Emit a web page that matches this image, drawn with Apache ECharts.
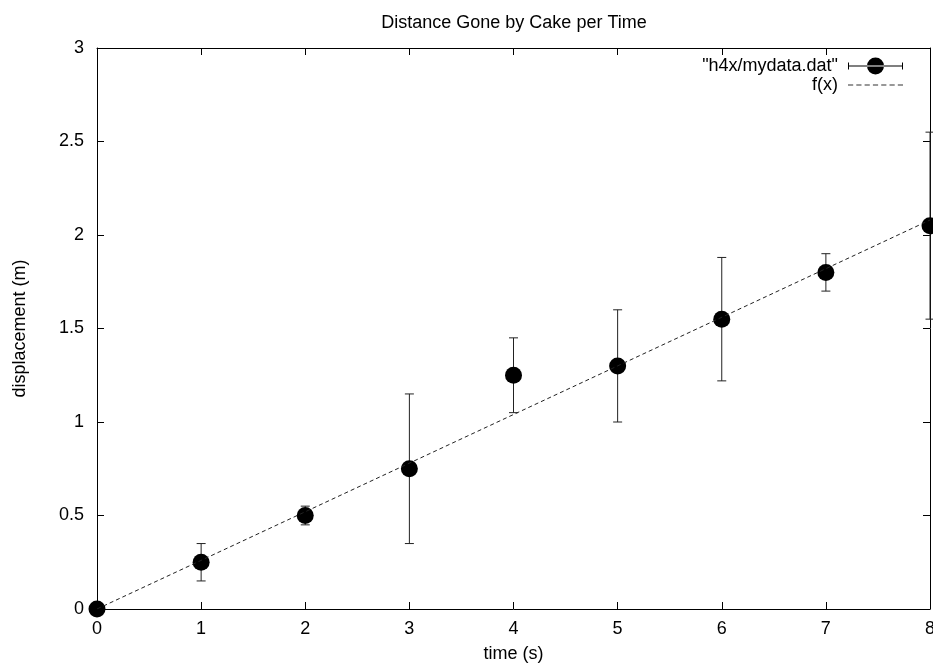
<!DOCTYPE html>
<html>
<head>
<meta charset="utf-8">
<title>Distance Gone by Cake per Time</title>
<script src="https://cdn.jsdelivr.net/npm/echarts@6/dist/echarts.min.js"></script>
<style>
  html, body { margin: 0; padding: 0; background: #fff; }
  #chart { width: 933px; height: 663px; }
</style>
</head>
<body>
<div id="chart"></div>
<script>
// datos
const tiempos = [0, 1, 2, 3, 4, 5, 6, 7, 8];
const desplazamientos = [0, 0.25, 0.5, 0.75, 1.25, 1.3, 1.55, 1.8, 2.05];
const errorBajo = [0, 0.15, 0.45, 0.35, 1.05, 1.0, 1.22, 1.7, 1.55];
const errorAlto = [0, 0.35, 0.55, 1.15, 1.45, 1.6, 1.88, 1.9, 2.55];

// recta f(x), extremos
const ajusteX = [0, 8];
const ajusteY = [0, 2.08];

const fuente = 'Liberation Sans, Arial, sans-serif';
const tamano = 18;

const puntos = tiempos.map((t, i) => [t, desplazamientos[i]]);
const barras = tiempos.map((t, i) => [t, errorBajo[i], errorAlto[i]]);
const recta = ajusteX.map((x, i) => [x, ajusteY[i]]);

// iconos de la leyenda
const iconoDatos = 'path://M0,5h1v7h-1z M54,5h1v7h-1z M0,8h55v1h-55z ' +
  'M19,8.5a8.5,8.5 0 1,0 17,0a8.5,8.5 0 1,0 -17,0z';
const iconoRecta = 'path://M0,0h5v1h-5z M8,0h5v1h-5z M16,0h5v1h-5z M24,0h5v1h-5z ' +
  'M32,0h5v1h-5z M40,0h5v1h-5z M48,0h5v1h-5z';

const chart = echarts.init(document.getElementById('chart'));

const ejeComun = {
  type: 'value',
  axisLine: { show: true, onZero: false, lineStyle: { color: '#000', width: 1 } },
  axisTick: { show: true, inside: true, length: 7, lineStyle: { color: '#000' } },
  splitLine: { show: false },
  axisLabel: { color: '#000', fontSize: tamano, fontFamily: fuente }
};

const option = {
  animation: false,
  backgroundColor: '#fff',
  title: {
    text: 'Distance Gone by Cake per Time',
    left: 509,
    top: 9,
    textAlign: 'center',
    textStyle: { fontSize: tamano, fontWeight: 'normal', color: '#000', fontFamily: fuente }
  },
  grid: { left: 97, right: 3, top: 48, bottom: 54, outerBoundsMode: 'none' },
  legend: {
    orient: 'vertical',
    right: 25,
    top: 52,
    align: 'right',
    itemWidth: 55,
    itemHeight: 17,
    itemGap: 1,
    formatter: '{name} ',
    textStyle: { fontSize: tamano, lineHeight: 17, color: '#000', fontFamily: fuente },
    data: [
      { name: '"h4x/mydata.dat"', icon: iconoDatos },
      { name: 'f(x)', icon: iconoRecta }
    ]
  },
  xAxis: [
    Object.assign({}, ejeComun, {
      min: 0, max: 8, interval: 1, position: 'bottom',
      axisLabel: Object.assign({}, ejeComun.axisLabel, { margin: 11 }),
      name: 'time (s)',
      nameLocation: 'middle',
      nameGap: 36,
      nameTextStyle: { fontSize: tamano, color: '#000', fontFamily: fuente }
    }),
    Object.assign({}, ejeComun, {
      min: 0, max: 8, interval: 1, position: 'top',
      axisLabel: { show: false }
    })
  ],
  yAxis: [
    Object.assign({}, ejeComun, {
      min: 0, max: 3, interval: 0.5, position: 'left',
      axisLabel: Object.assign({}, ejeComun.axisLabel, { margin: 13 }),
      name: 'displacement (m)',
      nameLocation: 'middle',
      nameGap: 68,
      nameTextStyle: { fontSize: tamano, color: '#000', fontFamily: fuente }
    }),
    Object.assign({}, ejeComun, {
      min: 0, max: 3, interval: 0.5, position: 'right',
      axisLabel: { show: false }
    })
  ],
  series: [
    {
      name: '"h4x/mydata.dat"',
      type: 'custom',
      clip: false,
      z: 2,
      itemStyle: { color: '#000' },
      renderItem: function (params, api) {
        const x = api.value(0);
        const abajo = api.coord([x, api.value(1)]);
        const arriba = api.coord([x, api.value(2)]);
        const media = 4.5;
        const estilo = { stroke: '#222', lineWidth: 1 };
        return {
          type: 'group',
          children: [
            { type: 'line', shape: { x1: abajo[0], y1: abajo[1], x2: arriba[0], y2: arriba[1] }, style: estilo },
            { type: 'line', shape: { x1: abajo[0] - media, y1: abajo[1], x2: abajo[0] + media, y2: abajo[1] }, style: estilo },
            { type: 'line', shape: { x1: arriba[0] - media, y1: arriba[1], x2: arriba[0] + media, y2: arriba[1] }, style: estilo }
          ]
        };
      },
      encode: { x: 0, y: [1, 2] },
      data: barras
    },
    {
      name: '"h4x/mydata.dat"',
      type: 'scatter',
      symbol: 'circle',
      symbolSize: 17,
      clip: false,
      z: 3,
      itemStyle: { color: '#000', opacity: 1 },
      data: puntos
    },
    {
      name: 'f(x)',
      type: 'line',
      symbol: 'none',
      z: 4,
      lineStyle: { color: '#222', width: 1, type: [4, 3] },
      itemStyle: { color: '#333' },
      data: recta
    }
  ]
};

chart.setOption(option);
</script>
</body>
</html>
